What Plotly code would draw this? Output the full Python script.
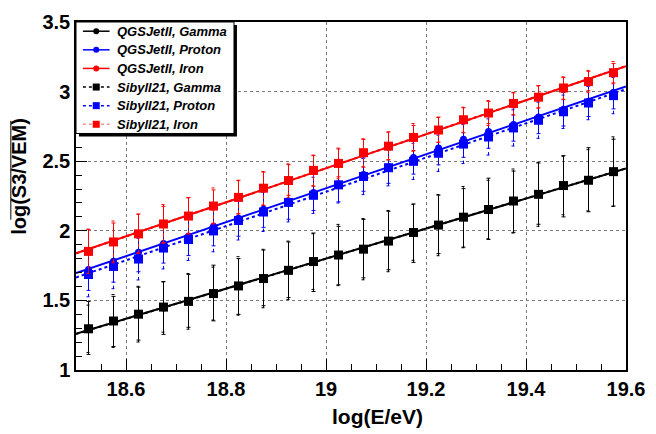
import numpy as np
import plotly.graph_objects as go

# log10 of primary energy, bin centres
log_e = [18.525, 18.575, 18.625, 18.675, 18.725, 18.775, 18.825, 18.875,
         18.925, 18.975, 19.025, 19.075, 19.125, 19.175, 19.225, 19.275,
         19.325, 19.375, 19.425, 19.475, 19.525, 19.575]

# mean log(S3/VEM), QGSJetII
qgs_gamma = [1.302, 1.349, 1.405, 1.446, 1.497, 1.553, 1.600, 1.662, 1.720, 1.774, 1.822,
             1.872, 1.930, 1.983, 2.046, 2.093, 2.158, 2.209, 2.267, 2.320, 2.367, 2.418]
qgs_proton = [1.722, 1.781, 1.846, 1.908, 1.962, 2.032, 2.091, 2.155, 2.213, 2.276, 2.338,
              2.404, 2.461, 2.527, 2.594, 2.658, 2.713, 2.764, 2.818, 2.873, 2.931, 2.996]
qgs_iron = [1.860, 1.916, 1.981, 2.046, 2.109, 2.174, 2.243, 2.302, 2.365, 2.430, 2.488,
            2.557, 2.611, 2.667, 2.727, 2.794, 2.850, 2.911, 2.964, 3.022, 3.076, 3.132]

# mean log(S3/VEM), Sibyll21
sib_gamma = [1.296, 1.352, 1.401, 1.452, 1.493, 1.549, 1.604, 1.657, 1.716, 1.779, 1.826,
             1.868, 1.926, 1.988, 2.041, 2.098, 2.153, 2.214, 2.262, 2.325, 2.363, 2.425]
sib_proton = [1.686, 1.744, 1.797, 1.876, 1.937, 1.999, 2.074, 2.135, 2.204, 2.255, 2.330,
              2.390, 2.453, 2.499, 2.557, 2.623, 2.674, 2.739, 2.794, 2.855, 2.918, 2.971]
sib_iron = [1.852, 1.920, 1.978, 2.049, 2.106, 2.178, 2.240, 2.306, 2.361, 2.434, 2.484,
            2.561, 2.608, 2.671, 2.724, 2.798, 2.846, 2.915, 2.960, 3.026, 3.072, 3.136]

# RMS spread
qgs_gamma_err = [0.19, 0.18, 0.19, 0.19, 0.19, 0.20, 0.20, 0.20, 0.20, 0.21, 0.21,
                 0.21, 0.21, 0.21, 0.21, 0.21, 0.22, 0.22, 0.22, 0.22, 0.23, 0.24]
sib_gamma_err = [0.17, 0.19, 0.20, 0.18, 0.20, 0.19, 0.21, 0.21, 0.21, 0.20, 0.22,
                 0.22, 0.22, 0.20, 0.22, 0.22, 0.21, 0.23, 0.23, 0.21, 0.22, 0.25]
qgs_proton_err = [0.15, 0.15, 0.14, 0.14, 0.14, 0.14, 0.13, 0.13, 0.13, 0.13, 0.13,
                  0.12, 0.12, 0.12, 0.12, 0.13, 0.12, 0.12, 0.12, 0.12, 0.11, 0.12]
sib_proton_err = [0.16, 0.16, 0.15, 0.15, 0.15, 0.15, 0.14, 0.14, 0.14, 0.13, 0.13,
                  0.13, 0.13, 0.13, 0.13, 0.14, 0.13, 0.13, 0.13, 0.12, 0.12, 0.13]
qgs_iron_err = [0.15, 0.14, 0.14, 0.13, 0.13, 0.12, 0.12, 0.12, 0.11, 0.11, 0.10,
                0.10, 0.10, 0.09, 0.09, 0.09, 0.08, 0.08, 0.08, 0.08, 0.07, 0.07]
sib_iron_err = [0.16, 0.15, 0.14, 0.14, 0.13, 0.13, 0.12, 0.12, 0.12, 0.11, 0.11,
                0.10, 0.10, 0.10, 0.09, 0.09, 0.09, 0.08, 0.08, 0.08, 0.08, 0.08]

legend_names = ["QGSJetII, Gamma", "QGSJetII, Proton", "QGSJetII, Iron",
                "Sibyll21, Gamma", "Sibyll21, Proton", "Sibyll21, Iron"]

X_RANGE = [18.5, 19.6]
Y_RANGE = [1.0, 3.5]
FONT = "Liberation Sans, Arial, sans-serif"

# figure / frame geometry in pixels
W, H = 656, 434
ML, MR, MT, MB = 76, 23, 11, 64
PW, PH = W - ML - MR, H - MT - MB


def px_x(px):
    return (px - ML) / PW


def px_y(py):
    return (H - MB - py) / PH


series = [
    # (values, errors, colour, symbol, marker size, dotted?)
    (qgs_gamma, qgs_gamma_err, "#000000", "circle", 7, False),
    (qgs_proton, qgs_proton_err, "#0000ff", "circle", 7, False),
    (qgs_iron, qgs_iron_err, "#ff0000", "circle", 7, False),
    (sib_gamma, sib_gamma_err, "#000000", "square", 9, True),
    (sib_proton, sib_proton_err, "#0000ff", "square", 9, True),
    (sib_iron, sib_iron_err, "#ff0000", "square", 9, True),
]
legend_line_colours = ["#000000", "#0000ff", "#ff0000", "#000000", "#0000ff", "#ff9090"]

fig = go.Figure()
xs = np.array(log_e)
xfit = np.array(X_RANGE)

for (vals, errs, col, sym, msz, dotted) in series:
    ys = np.array(vals)
    es = np.array(errs)
    # linear fit across the full energy range
    slope, icpt = np.polyfit(xs, ys, 1)
    fig.add_trace(go.Scatter(
        x=xfit, y=slope * xfit + icpt, mode="lines", showlegend=False,
        line=dict(color=col, width=2, dash="dot" if dotted else "solid"),
        hoverinfo="skip"))
    if dotted:
        # dotted error bars with small caps
        bx, by = [], []
        cap = 0.004
        for xv, yv, ev in zip(xs, ys, es):
            bx += [xv, xv, None, xv - cap, xv + cap, None, xv - cap, xv + cap, None]
            by += [yv - ev, yv + ev, None, yv + ev, yv + ev, None, yv - ev, yv - ev, None]
        fig.add_trace(go.Scatter(x=bx, y=by, mode="lines", showlegend=False,
                                 line=dict(color=col, width=1, dash="dot"),
                                 hoverinfo="skip"))
        fig.add_trace(go.Scatter(x=xs, y=ys, mode="markers", showlegend=False,
                                 marker=dict(color=col, symbol=sym, size=msz)))
    else:
        fig.add_trace(go.Scatter(
            x=xs, y=ys, mode="markers", showlegend=False,
            marker=dict(color=col, symbol=sym, size=msz),
            error_y=dict(type="data", array=es, visible=True, color=col,
                         thickness=1, width=2)))

axis_common = dict(
    showline=True, linecolor="black", linewidth=1.5, mirror=True,
    ticks="inside", ticklen=11, tickcolor="black", tickwidth=1,
    showgrid=True, gridcolor="#7a7a7a", griddash="dot", gridwidth=1,
    zeroline=False,
    tickfont=dict(family=FONT, size=20, color="black", weight="bold"),
)

fig.update_xaxes(range=X_RANGE, dtick=0.2, tick0=0,
                 minor=dict(dtick=0.05, ticks="inside", ticklen=6, tickcolor="black", showgrid=False),
                 **axis_common)
fig.update_yaxes(range=Y_RANGE, dtick=0.5, tick0=0,
                 minor=dict(dtick=0.1, ticks="inside", ticklen=6, tickcolor="black", showgrid=False),
                 **axis_common)

fig.add_annotation(text="log(E/eV)", xref="paper", yref="paper", x=px_x(381), y=px_y(418),
                   showarrow=False, xanchor="center", yanchor="middle",
                   font=dict(family=FONT, size=21, color="black", weight="bold"))
fig.add_annotation(text="log(S3/VEM)", xref="paper", yref="paper", x=px_x(18), y=px_y(170),
                   showarrow=False, textangle=-90, xanchor="center", yanchor="middle",
                   font=dict(family=FONT, size=20, color="black", weight="bold"))
# bar over the averaged quantity in the y title
fig.add_shape(type="line", xref="paper", yref="paper", x0=px_x(10), x1=px_x(10),
              y0=px_y(215), y1=px_y(113), line=dict(color="black", width=1))

# ---- legend box (ROOT TLegend style, with drop shadow) ----
LX0, LX1, LY0, LY1 = 76, 236, 11, 126
SH = 3
fig.add_shape(type="rect", xref="paper", yref="paper", layer="above",
              x0=px_x(LX0 + SH), x1=px_x(LX1 + SH), y0=px_y(LY1 + SH), y1=px_y(LY0 + SH),
              fillcolor="black", line=dict(width=0))
fig.add_shape(type="rect", xref="paper", yref="paper", layer="above",
              x0=px_x(LX0), x1=px_x(LX1), y0=px_y(LY1), y1=px_y(LY0),
              fillcolor="white", line=dict(color="black", width=1))

row0, drow = 20.5, 19.2
for k, (name, (vals, errs, col, sym, msz, dotted), lcol) in enumerate(
        zip(legend_names, series, legend_line_colours)):
    ry = row0 + k * drow
    fig.add_shape(type="line", xref="paper", yref="paper", layer="above",
                  x0=px_x(83), x1=px_x(110), y0=px_y(ry), y1=px_y(ry),
                  line=dict(color=lcol, width=1.5, dash="dot" if dotted else "solid"))
    half = 3 if sym == "circle" else 3.5
    fig.add_shape(type="circle" if sym == "circle" else "rect",
                  xref="paper", yref="paper", layer="above",
                  xsizemode="pixel", ysizemode="pixel",
                  xanchor=px_x(96.5), yanchor=px_y(ry),
                  x0=-half, x1=half, y0=-half, y1=half,
                  fillcolor=col, line=dict(color=col, width=0))
    fig.add_annotation(text=name, xref="paper", yref="paper",
                       x=px_x(116), y=px_y(ry), xanchor="left", yanchor="middle",
                       showarrow=False,
                       font=dict(family=FONT, size=13, color="black", weight="bold",
                                 style="italic"))

fig.update_layout(
    width=W, height=H,
    margin=dict(l=ML, r=MR, t=MT, b=MB),
    paper_bgcolor="white", plot_bgcolor="white",
    showlegend=False,
)

fig.write_html("out.html")
